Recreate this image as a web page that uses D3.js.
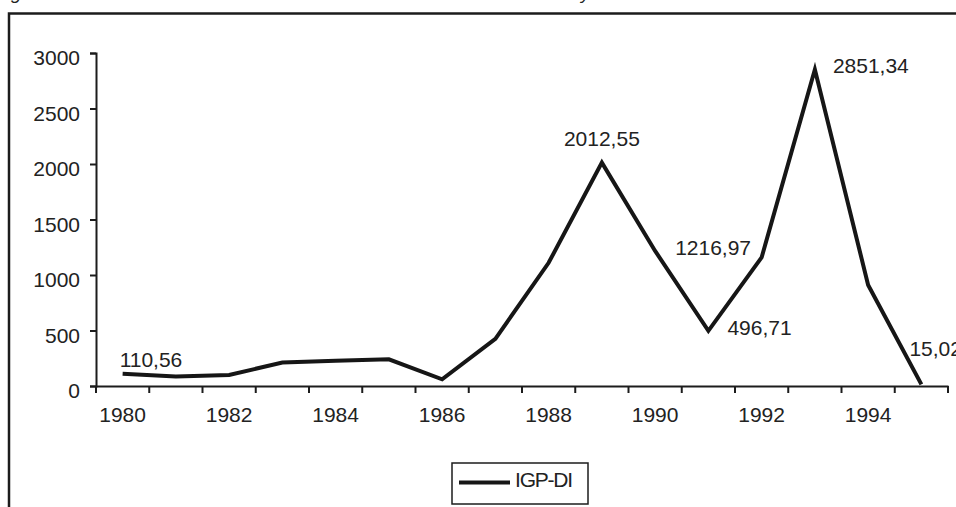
<!DOCTYPE html>
<html>
<head>
<meta charset="utf-8">
<script src="https://cdn.jsdelivr.net/npm/d3@7"></script>
<style>
  html, body { margin: 0; padding: 0; background: #fff; }
  svg { display: block; }
  text { font-family: "Liberation Sans", Arial, sans-serif; fill: #222; }
</style>
</head>
<body>
<svg id="chart" width="956" height="507"></svg>
<script>
// IGP-DI annual inflation (%), 1980–1995
const years = [1980, 1981, 1982, 1983, 1984, 1985, 1986, 1987,
               1988, 1989, 1990, 1991, 1992, 1993, 1994, 1995];
const igpDi = [110.56, 85, 100, 211, 228, 240, 60, 425,
               1110, 2012.55, 1216.97, 496.71, 1158, 2851.34, 910, 15.02];
const yTicks = [0, 500, 1000, 1500, 2000, 2500, 3000];
const xTickLabels = [1980, 1982, 1984, 1986, 1988, 1990, 1992, 1994];
const labelledYears = [1980, 1989, 1990, 1991, 1993, 1995];
const seriesName = "IGP-DI";

// placement of the value labels relative to their point
const labelPlacement = {
  1980: { dx: -3, dy: -7, anchor: "start" },
  1989: { dx: 0, dy: -17, anchor: "middle" },
  1990: { dx: 20, dy: 4, anchor: "start" },
  1991: { dx: 19, dy: 4, anchor: "start" },
  1993: { dx: 18, dy: 3, anchor: "start" },
  1995: { dx: -12, dy: -28, anchor: "start" }
};

const fmt = v => d3.format(".2f")(v).replace(".", ",");

const svg = d3.select("#chart");
const ink = "#1c1c1c";

// outer frame (left and top edges)
svg.append("path")
  .attr("d", "M9,507 L9,13.5 L956,13.5")
  .attr("fill", "none")
  .attr("stroke", ink)
  .attr("stroke-width", 2.5);

// caption line above the frame (only its descenders fall inside the view)
const cap = svg.append("g").attr("font-style", "italic").attr("font-size", 19);
cap.append("text").attr("x", 11).attr("y", -1).text("g");
cap.append("text").attr("x", 581).attr("y", -1).text("y");

const x = d3.scaleBand().domain(years).range([96, 948]).padding(0);
const y = d3.scaleLinear().domain([0, 3000]).range([386, 53]);
const cx = d => x(d) + x.bandwidth() / 2;

// y axis
const yAxis = svg.append("g")
  .attr("transform", "translate(96,0)")
  .call(d3.axisLeft(y).tickValues(yTicks).tickSize(6).tickPadding(10).tickFormat(d3.format("d")));
yAxis.select(".domain").attr("stroke", ink).attr("stroke-width", 2);
yAxis.selectAll(".tick line").attr("stroke", ink).attr("stroke-width", 2);
yAxis.selectAll(".tick text")
  .attr("font-size", 21).attr("font-family", "Liberation Sans, Arial, sans-serif")
  .attr("fill", "#222").attr("dy", "0.55em");

// x axis: labels centred on categories, ticks on category boundaries
const xAxis = svg.append("g")
  .attr("transform", "translate(0,386)")
  .call(d3.axisBottom(x).tickValues(xTickLabels).tickSize(0).tickPadding(21));
xAxis.select(".domain").attr("stroke", ink).attr("stroke-width", 2);
xAxis.selectAll(".tick text")
  .attr("font-size", 21).attr("font-family", "Liberation Sans, Arial, sans-serif")
  .attr("fill", "#222");
const boundaries = years.map(d => x(d)).concat([x(years[years.length - 1]) + x.bandwidth()]);
xAxis.selectAll("line.boundary")
  .data(boundaries)
  .enter().append("line")
  .attr("class", "boundary")
  .attr("x1", d => d).attr("x2", d => d)
  .attr("y1", 0).attr("y2", 7)
  .attr("stroke", ink).attr("stroke-width", 2);

// series line
const data = years.map((yr, i) => ({ year: yr, value: igpDi[i] }));
svg.append("path")
  .datum(data)
  .attr("fill", "none")
  .attr("stroke", "#161616")
  .attr("stroke-width", 4)
  .attr("stroke-linejoin", "miter")
  .attr("d", d3.line().x(d => cx(d.year)).y(d => y(d.value)));

// value labels
svg.append("g").selectAll("text")
  .data(data.filter(d => labelledYears.includes(d.year)))
  .enter().append("text")
  .attr("x", d => cx(d.year) + labelPlacement[d.year].dx)
  .attr("y", d => y(d.value) + labelPlacement[d.year].dy)
  .attr("text-anchor", d => labelPlacement[d.year].anchor)
  .attr("font-size", 21)
  .text(d => fmt(d.value));

// legend
const legend = svg.append("g").attr("transform", "translate(452,463)");
legend.append("rect")
  .attr("width", 136).attr("height", 41)
  .attr("fill", "#fff").attr("stroke", ink).attr("stroke-width", 1.5);
legend.append("line")
  .attr("x1", 7).attr("x2", 58).attr("y1", 19.5).attr("y2", 19.5)
  .attr("stroke", "#161616").attr("stroke-width", 4);
legend.append("text")
  .attr("x", 63).attr("y", 23.5)
  .attr("font-size", 21)
  .attr("letter-spacing", -1.2)
  .text(seriesName);
</script>
</body>
</html>
